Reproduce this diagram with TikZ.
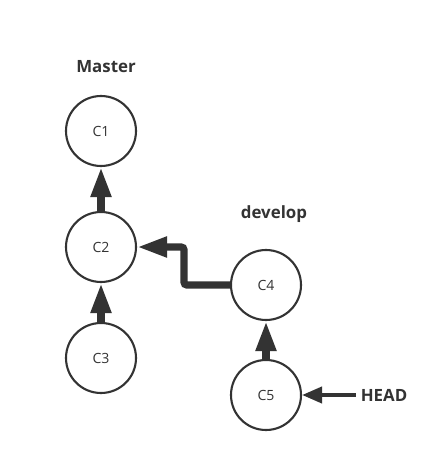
\documentclass[tikz,border=0pt]{standalone}
\usepackage{fontspec}
\setmainfont{Open Sans}
\usepackage{xcolor}
\usetikzlibrary{arrows.meta}
\definecolor{dark}{rgb}{0.2,0.2,0.2}

\begin{document}
\begin{tikzpicture}[
		cnode/.style = {circle,	draw=dark,	line width=1.5pt,	minimum size=1.75cm, inner sep=0pt, font=\normalsize, text=dark},
		lbl/.style = {font=\bfseries\large, text=dark},
		r/.style = {draw=dark, line width=0.18cm, rounded corners=2pt, -{Triangle[length=0.75cm, width=0.48cm]}},
		rh/.style = {draw=dark, line width=0.1cm, -{Triangle[length=0.5cm, width=0.4cm]}}
		]
		\useasboundingbox (0, 0) rectangle (11.175, -11.55);
		
		%Nodes
		\node[lbl]	(master)	at	(2.65, -1.675)	{Master};
		\node[lbl]	(develop)	at	(6.85, -5.35)	{develop};
		\node[lbl]	(head)	at	(9.6, -9.875)	{HEAD};
		
		\node[cnode]	(c1)	at	(2.525, -3.275)	{C1};
		\node[cnode]	(c2)	at	(2.525, -6.175)	{C2};
		\node[cnode]	(c3)	at	(2.525, -8.95)	{C3};
		\node[cnode]	(c4)	at	(6.65, -7.125)	{C4};
		\node[cnode]	(c5)	at	(6.65, -9.875)	{C5};
		
		\coordinate	(bend)	at	(4.6, -6.175);
		
		%Lines
		\draw[r]	(c2.north)	to	(c1.south);
		\draw[r]	(c3.north)	to	(c2.south);
		\draw[r]	(c5.north)	to	(c4.south);
		\draw[r]	(c4.west)	-|	(bend)	--	(c2.east);
		\draw[rh]	(head.west)	to	(c5.east);
	\end{tikzpicture}
\end{document}
